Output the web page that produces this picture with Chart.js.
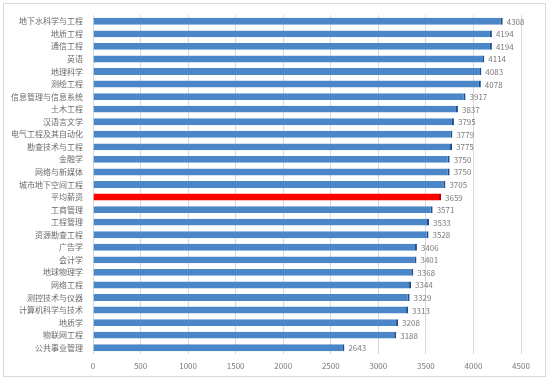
<!DOCTYPE html>
<html>
<head>
<meta charset="utf-8">
<script src="https://cdn.jsdelivr.net/npm/chart.js@4/dist/chart.umd.min.js"></script>
<style>
html,body{margin:0;padding:0;background:#fff;}
#wrap{width:549px;height:380px;position:relative;}
</style>
</head>
<body>
<div id="wrap"><canvas id="c" width="549" height="380"></canvas></div>
<script>
const categories = ["地下水科学与工程","地质工程","通信工程","英语","地理科学","测绘工程","信息管理与信息系统","土木工程","汉语言文学","电气工程及其自动化","勘查技术与工程","金融学","网络与新媒体","城市地下空间工程","平均薪资","工商管理","工程管理","资源勘查工程","广告学","会计学","地球物理学","网络工程","测控技术与仪器","计算机科学与技术","地质学","物联网工程","公共事业管理"];
const salaries = [4308,4194,4194,4114,4083,4078,3917,3837,3795,3779,3775,3750,3750,3705,3659,3571,3533,3528,3406,3401,3368,3344,3329,3313,3208,3188,2643];
const highlightCategory = "平均薪资";
const xTicks = [0,500,1000,1500,2000,2500,3000,3500,4000,4500];

const FONT = "'Noto Sans CJK SC', 'Noto Sans', sans-serif";
const barColors = categories.map(c => c === highlightCategory ? '#ff0000' : '#4a86c8');
const barBorders = categories.map(c => c === highlightCategory ? '#c00000' : '#1f4e8c');

const framePlugin = {
  id: 'frame',
  beforeDraw(chart) {
    const ctx = chart.ctx;
    ctx.save();
    ctx.fillStyle = '#ffffff';
    ctx.fillRect(0, 0, chart.width, chart.height);
    ctx.strokeStyle = '#d9d9d9';
    ctx.lineWidth = 1;
    ctx.strokeRect(3.5, 3.5, chart.width - 7, chart.height - 7);
    ctx.restore();
  }
};

const valueLabels = {
  id: 'valueLabels',
  afterDatasetsDraw(chart) {
    const ctx = chart.ctx;
    const meta = chart.getDatasetMeta(0);
    ctx.save();
    ctx.font = "8px " + FONT;
    ctx.fillStyle = '#7a7a7a';
    ctx.textAlign = 'left';
    ctx.textBaseline = 'middle';
    meta.data.forEach((bar, i) => {
      ctx.fillText(String(salaries[i]), bar.x + 4, bar.y + 0.5);
    });
    ctx.restore();
  }
};

new Chart(document.getElementById('c'), {
  type: 'bar',
  data: {
    labels: categories,
    datasets: [{
      data: salaries,
      backgroundColor: barColors,
      borderColor: barBorders,
      borderWidth: {top: 0, bottom: 0, left: 0, right: 2},
      borderSkipped: 'start',
      barPercentage: 0.55,
      categoryPercentage: 1.0
    }]
  },
  options: {
    indexAxis: 'y',
    responsive: false,
    animation: false,
    devicePixelRatio: 1,
    layout: { padding: { left: 0, right: 28, top: 15, bottom: 10 } },
    plugins: {
      legend: { display: false },
      tooltip: { enabled: false },
      title: { display: false }
    },
    scales: {
      x: {
        min: 0,
        max: 4500,
        afterBuildTicks(scale) { scale.ticks = xTicks.map(v => ({ value: v })); },
        afterFit(scale) { scale.height = 16; },
        grid: { color: '#d9d9d9', lineWidth: 1, drawTicks: false },
        border: { display: false },
        ticks: {
          padding: 7,
          color: '#7a7a7a',
          font: { family: FONT, size: 8 },
          callback: (v) => String(v)
        }
      },
      y: {
        afterFit(scale) { scale.width = 93; },
        grid: { display: false, drawTicks: false },
        border: { display: false },
        ticks: {
          padding: 10,
          autoSkip: false,
          color: '#6a6a6a',
          font: { family: FONT, size: 8 }
        }
      }
    }
  },
  plugins: [framePlugin, valueLabels]
});
</script>
</body>
</html>
